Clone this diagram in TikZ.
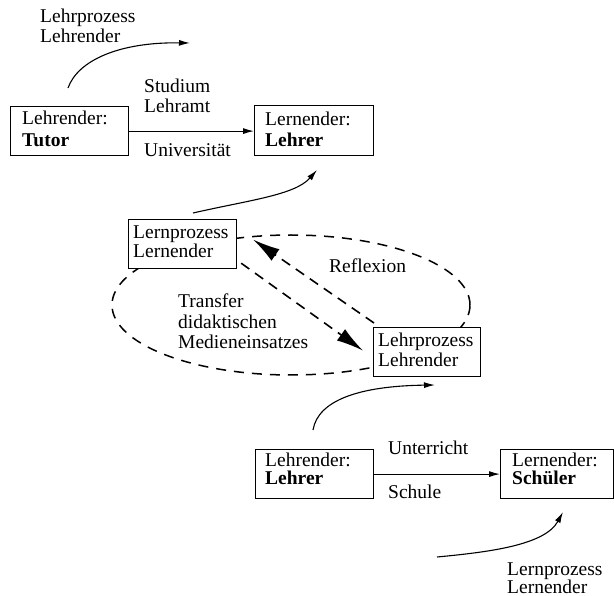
\documentclass[tikz,border=0pt]{standalone}
\usepackage{fontspec}
\setmainfont{Liberation Serif}
\usetikzlibrary{arrows.meta,calc}
\begin{document}
\begin{tikzpicture}[x=1pt,y=-1pt,
  txt/.style={font=\fontsize{19.5}{21}\selectfont, inner sep=0pt, anchor=base west},
  boxr/.style={draw, fill=white, line width=1.2pt, inner sep=0pt, anchor=north west},
  arr/.style={line width=1.1pt, -{Latex[length=11pt,width=6pt]}},
  dasharr/.style={line width=1.6pt, dash pattern=on 10pt off 7pt, -{Latex[length=27pt,width=14pt]}},
  dashline/.style={line width=1.5pt, dash pattern=on 10pt off 8pt}]
\useasboundingbox (0,0) rectangle (614,596);
% dashed ellipse (behind boxes)
\draw[dashline] (291,305) ellipse [x radius=179pt, y radius=70pt];
% boxes
\node[boxr, minimum width=118pt, minimum height=49pt] (tutor) at (10,106) {};
\node[boxr, minimum width=119pt, minimum height=50pt] (lehrer1) at (254,105) {};
\node[boxr, minimum width=108pt, minimum height=49pt] (lernp) at (128,219) {};
\node[boxr, minimum width=107pt, minimum height=49pt] (lehrp) at (373,327) {};
\node[boxr, minimum width=118pt, minimum height=49pt] (lehrer2) at (255,449) {};
\node[boxr, minimum width=113pt, minimum height=49pt] (schueler) at (500,449) {};
% box texts
\node[txt] (t1a) at (22,125) {Lehrender:};
\node[txt] (t1b) at (22,147) {\bfseries Tutor};
\node[txt] (t2a) at (265,126) {Lernender:};
\node[txt] (t2b) at (265,147) {\bfseries Lehrer};
\node[txt] (t3a) at (133,239) {Lernprozess};
\node[txt] (t3b) at (133,258) {Lernender};
\node[txt] (t4a) at (378,347) {Lehrprozess};
\node[txt] (t4b) at (378,367) {Lehrender};
\node[txt] (t5a) at (265,467) {Lehrender:};
\node[txt] (t5b) at (265,485) {\bfseries Lehrer};
\node[txt] (t6a) at (512,467) {Lernender:};
\node[txt] (t6b) at (512,485) {\bfseries Schüler};
% free labels
\node[txt] (l1a) at (40,23) {Lehrprozess};
\node[txt] (l1b) at (40,43) {Lehrender};
\node[txt] (l2a) at (144,93) {Studium};
\node[txt] (l2b) at (144,113) {Lehramt};
\node[txt] (l2c) at (144,157) {Universität};
\node[txt] (l3) at (329,273) {Reflexion};
\node[txt] (l4a) at (178,308) {Transfer};
\node[txt] (l4b) at (178,329) {didaktischen};
\node[txt] (l4c) at (178,349) {Medieneinsatzes};
\node[txt] (l5a) at (388,455) {Unterricht};
\node[txt] (l5b) at (388,498) {Schule};
\node[txt] (l6a) at (507,575) {Lernprozess};
\node[txt] (l6b) at (507,593) {Lernender};
% straight arrows
\draw[arr] (tutor.east) -- (tutor.east -| lehrer1.west);
\draw[arr] (lehrer2.east) -- (schueler.west);
% dashed arrows
\coordinate (d1s) at ($(lernp.south east)+(4,-6)$);
\coordinate (d1e) at ($(lehrp.west)+(-10,-1.5)$);
\draw[dasharr] (d1s) -- (d1e);
\coordinate (d2s) at ($(lehrp.north west)+(1,-4)$);
\coordinate (d2e) at ($(lernp.east)+(16,-4.5)$);
\draw[dasharr] (d2s) -- (d2e);
% curved arrows
\coordinate (c1s) at (68,88); \coordinate (c1e) at (190,43);
\draw[arr] (c1s) .. controls (78,60) and (120,42) .. (c1e);
\coordinate (c2s) at (193,213); \coordinate (c2e) at (317,170);
\draw[arr] (c2s) .. controls (250,200) and (295,195) .. (c2e);
\coordinate (c3s) at (313,430); \coordinate (c3e) at (435,385);
\draw[arr] (c3s) .. controls (318,400) and (360,386) .. (c3e);
\coordinate (c4s) at (437,557); \coordinate (c4e) at (563,512);
\draw[arr] (c4s) .. controls (490,552) and (545,545) .. (c4e);
\end{tikzpicture}
\end{document}
